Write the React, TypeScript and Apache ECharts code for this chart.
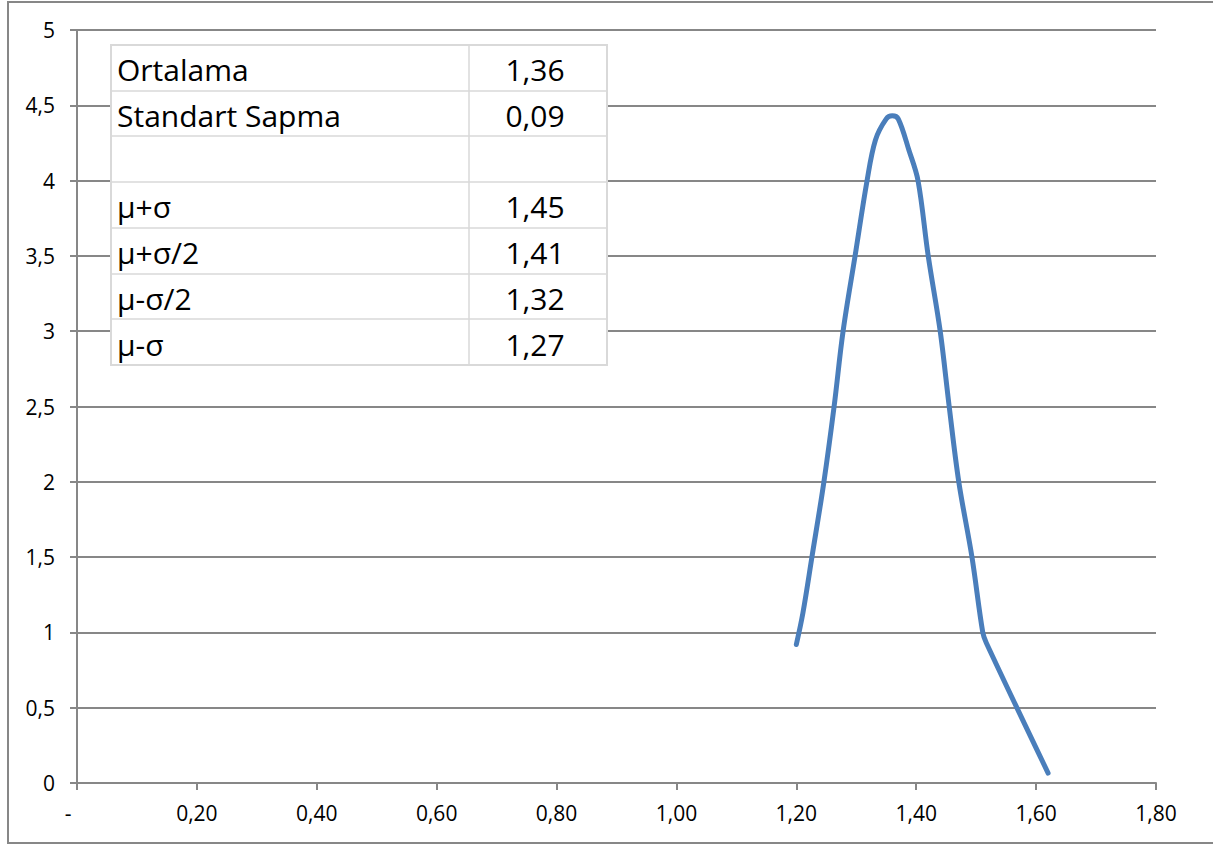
import React, { useEffect, useRef } from "react";
import * as echarts from "echarts";

// Curve points (x, density)
const xValues = [1.2, 1.211, 1.226, 1.246, 1.263, 1.278, 1.298, 1.318, 1.332, 1.35, 1.36, 1.37, 1.388, 1.403, 1.42, 1.44, 1.455, 1.471, 1.493, 1.511, 1.517, 1.62];
const yValues = [0.92, 1.13, 1.5, 2.0, 2.5, 3.0, 3.5, 4.0, 4.27, 4.41, 4.43, 4.41, 4.2, 4.0, 3.5, 3.0, 2.5, 2.0, 1.5, 1.0, 0.93, 0.066];

// Table overlay
const tableLabels = ["Ortalama", "Standart Sapma", "", "μ+σ", "μ+σ/2", "μ-σ/2", "μ-σ"];
const tableValues = ["1,36", "0,09", "", "1,45", "1,41", "1,32", "1,27"];

const FONT = "'Open Sans', 'Liberation Sans', sans-serif";

export default function App() {
  const ref = useRef<HTMLDivElement>(null);
  useEffect(() => {
    const chart = echarts.init(ref.current!, null, { renderer: "svg" });
    const data = xValues.map((x, i) => [x, yValues[i]]);

    const tLeft = 111, tRight = 607, tMid = 469, tTop = 45, rowH = 45.7;
    const rows = tableLabels.length;
    const graphics: any[] = [];
    graphics.push({
      type: "rect",
      shape: { x: 8, y: 2, width: 1230, height: 841 },
      style: { fill: "none", stroke: "#878787", lineWidth: 2 },
      z: 100,
    });
    graphics.push({
      type: "rect",
      shape: { x: tLeft, y: tTop, width: tRight - tLeft, height: rowH * rows },
      style: { fill: "#ffffff", stroke: "#d9d9d9", lineWidth: 2 },
      z: 100,
    });
    for (let i = 1; i < rows; i++) {
      const y = Math.round(tTop + rowH * i);
      graphics.push({
        type: "line",
        shape: { x1: tLeft, y1: y, x2: tRight, y2: y },
        style: { stroke: "#d9d9d9", lineWidth: 1.5 },
        z: 101,
      });
    }
    graphics.push({
      type: "line",
      shape: { x1: tMid, y1: tTop, x2: tMid, y2: tTop + rowH * rows },
      style: { stroke: "#d9d9d9", lineWidth: 1.5 },
      z: 101,
    });
    tableLabels.forEach((t, i) => {
      const cy = tTop + rowH * i + rowH / 2 + 2;
      graphics.push({
        type: "text",
        x: tLeft + 6,
        y: cy,
        style: { text: t, fill: "#000", font: `30px ${FONT}`, textAlign: "left", textVerticalAlign: "middle" },
        z: 102,
      });
      graphics.push({
        type: "text",
        x: (tMid + tRight) / 2 - 3,
        y: cy,
        style: { text: tableValues[i], fill: "#000", font: `30px ${FONT}`, textAlign: "center", textVerticalAlign: "middle" },
        z: 102,
      });
    });

    chart.setOption({
      animation: false,
      backgroundColor: "#ffffff",
      grid: { left: 77, right: 57, top: 30, bottom: 62, containLabel: false },
      xAxis: {
        type: "value",
        min: 0,
        max: 1.8,
        interval: 0.2,
        axisLine: { show: true, lineStyle: { color: "#878787", width: 2 } },
        axisTick: { show: true, length: 7, lineStyle: { color: "#878787", width: 2 } },
        splitLine: { show: false },
        axisLabel: {
          margin: 19,
          color: "#000",
          fontSize: 21,
          fontFamily: FONT,
          formatter: (v: number) => (Math.abs(v) < 1e-9 ? "{d|-}" : v.toFixed(2).replace(".", ",")),
          rich: { d: { fontSize: 21, fontFamily: FONT, color: "#000", padding: [0, 18, 0, 0] } },
        },
      },
      yAxis: {
        type: "value",
        min: 0,
        max: 5,
        interval: 0.5,
        axisLine: { show: true, lineStyle: { color: "#878787", width: 2 } },
        axisTick: { show: true, length: 7, lineStyle: { color: "#878787", width: 2 } },
        splitLine: { show: true, lineStyle: { color: "#878787", width: 2 } },
        axisLabel: {
          margin: 22,
          color: "#000",
          fontSize: 21,
          fontFamily: FONT,
          formatter: (v: number) => String(Math.round(v * 10) / 10).replace(".", ","),
        },
      },
      series: [
        {
          type: "line",
          data,
          smooth: 0.35,
          showSymbol: false,
          symbol: "none",
          lineStyle: { color: "#4a7ebb", width: 5, cap: "round", join: "round" },
          z: 5,
        },
      ],
      graphic: graphics,
    });
    return () => chart.dispose();
  }, []);
  return (
    <div
      ref={ref}
      style={{ position: "fixed", left: 0, top: 0, width: 1213, height: 845 }}
    />
  );
}
